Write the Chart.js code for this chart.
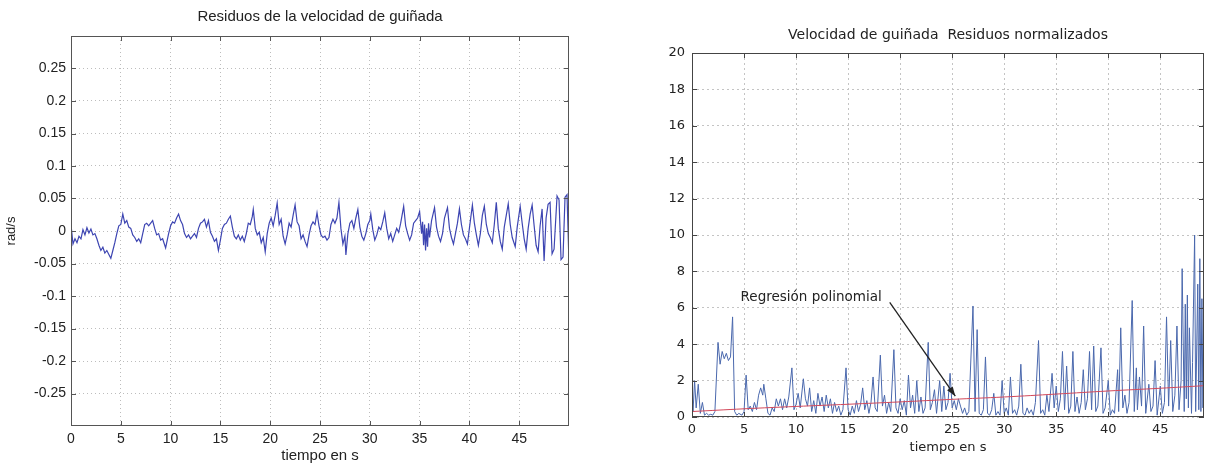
<!DOCTYPE html>
<html><head><meta charset="utf-8">
<script src="https://cdn.jsdelivr.net/npm/chart.js@4.4.1/dist/chart.umd.min.js"></script>
<style>
html,body{margin:0;padding:0;background:#fff;width:1207px;height:463px;overflow:hidden}
#left{position:absolute;left:0;top:0}
#right{position:absolute;left:600px;top:0}
</style></head><body>
<canvas id="left" width="600" height="463"></canvas>
<canvas id="right" width="607" height="463"></canvas>
<script>
// ---------- Left chart: yaw-rate residuals (rad/s) ----------
const leftTime = [
  0,0.2,0.4,0.6,0.8,1.0,1.2,1.4,1.6,1.8,
  2.0,2.2,2.4,2.6,2.8,3.0,3.2,3.4,3.6,3.8,
  4.0,4.2,4.4,4.6,4.8,5.0,5.2,5.4,5.6,5.8,
  6.0,6.2,6.4,6.6,6.8,7.0,7.2,7.4,7.6,7.8,
  8.0,8.2,8.4,8.6,8.8,9.0,9.2,9.5,9.8,10.0,
  10.2,10.4,10.6,10.8,11.0,11.2,11.4,11.6,11.8,12.0,
  12.2,12.4,12.6,12.8,13.0,13.2,13.4,13.6,13.8,14.0,
  14.2,14.4,14.6,14.8,15.0,15.2,15.4,15.6,15.8,16.0,
  16.2,16.4,16.6,16.8,17.0,17.2,17.4,17.6,17.8,18.0,
  18.2,18.3,18.5,18.7,18.9,19.1,19.3,19.5,19.7,19.9,
  20.1,20.3,20.5,20.7,20.9,21.1,21.3,21.5,21.7,21.9,
  22.1,22.3,22.5,22.7,22.9,23.1,23.3,23.5,23.7,23.9,
  24.1,24.3,24.5,24.7,24.9,25.1,25.3,25.5,25.7,25.9,
  26.1,26.3,26.5,26.7,26.9,27.1,27.3,27.5,27.6,27.8,
  28.0,28.2,28.4,28.6,28.8,29.0,29.2,29.4,29.6,29.8,
  30.0,30.1,30.3,30.5,30.7,30.9,31.1,31.3,31.5,31.7,
  31.9,32.1,32.3,32.5,32.7,32.9,33.1,33.4,33.6,33.8,
  34.0,34.2,34.4,34.6,34.8,35.0,35.2,35.3,35.4,35.5,
  35.6,35.7,35.8,35.9,36.0,36.2,36.5,36.7,36.9,37.1,
  37.3,37.5,37.8,38.0,38.2,38.4,38.6,38.8,39.0,39.2,
  39.4,39.6,39.8,40.0,40.3,40.5,40.7,40.9,41.1,41.3,
  41.5,41.7,41.9,42.1,42.3,42.5,42.7,42.9,43.1,43.3,
  43.5,43.7,43.9,44.1,44.3,44.6,44.8,45.1,45.3,45.5,
  45.7,45.9,46.1,46.3,46.5,46.7,46.9,47.1,47.3,47.5,
  47.7,47.9,48.1,48.3,48.5,48.8,49.0,49.2,49.4,49.6,
  49.8,50.0
];
const leftResidual = [
  0.010,-0.020,-0.012,-0.018,-0.008,-0.012,0.002,-0.006,0.005,-0.003,
  0.003,-0.006,-0.004,-0.012,-0.022,-0.030,-0.025,-0.034,-0.030,-0.036,
  -0.042,-0.030,-0.018,-0.004,0.008,0.010,0.026,0.012,0.016,0.006,
  0.004,-0.006,-0.010,-0.016,-0.012,-0.018,-0.004,0.010,0.012,0.008,
  0.012,0.016,0.004,-0.006,-0.004,-0.014,-0.012,-0.026,-0.004,0.008,
  0.014,0.012,0.020,0.026,0.016,0.010,-0.004,-0.010,-0.006,-0.012,
  -0.008,-0.004,-0.010,0.004,0.012,0.014,0.018,0.006,0.016,-0.002,
  -0.008,-0.016,-0.012,-0.030,-0.014,0.004,0.010,0.012,0.018,0.023,
  0.006,-0.008,-0.012,-0.006,-0.014,-0.008,-0.016,-0.004,0.012,0.010,
  0.022,0.033,0.004,-0.006,-0.002,-0.018,-0.010,-0.032,-0.004,0.012,
  0.020,0.008,0.024,0.043,0.010,0.018,-0.008,-0.020,-0.006,0.012,
  0.006,0.024,0.040,0.014,0.008,-0.012,-0.006,-0.016,-0.024,-0.006,
  0.008,0.014,0.010,0.028,0.008,-0.006,-0.010,-0.008,-0.014,-0.010,
  0.010,0.018,0.012,0.020,0.044,0.004,-0.020,-0.008,-0.037,-0.004,
  0.012,0.016,0.004,0.020,0.033,0.006,-0.008,-0.014,-0.004,0.010,
  0.016,0.026,0.002,-0.014,-0.006,0.006,0.002,0.014,0.028,0.004,
  -0.012,-0.004,-0.016,-0.006,0.004,-0.002,0.012,0.038,0.008,-0.004,
  -0.014,-0.006,0.012,0.016,0.020,0.030,-0.004,0.014,-0.022,0.010,
  -0.030,0.004,-0.024,0.012,-0.010,0.016,0.036,0.006,-0.008,-0.016,
  -0.004,0.020,0.036,0.004,-0.010,-0.020,-0.004,0.012,0.034,0.010,
  -0.006,-0.012,-0.020,0.004,0.040,0.012,-0.006,-0.022,-0.004,0.024,
  0.038,0.010,-0.004,-0.010,-0.018,0.010,0.044,0.004,-0.016,-0.028,
  0.006,0.024,0.042,0.010,-0.010,-0.024,0.006,0.038,0.012,-0.012,
  -0.028,0.004,0.026,0.040,0.008,-0.022,-0.032,0.008,0.034,-0.046,
  0.020,0.041,0.044,-0.035,-0.028,0.054,0.048,-0.044,-0.040,0.052,
  0.056,-0.050
];
const leftXTicks = [0,5,10,15,20,25,30,35,40,45];
const leftYTicks = [-0.25,-0.2,-0.15,-0.1,-0.05,0,0.05,0.1,0.15,0.2,0.25];

// ---------- Right chart: normalized residuals ----------
const rightTime = [
  0.0,0.1,0.25,0.4,0.6,0.8,1.0,1.2,1.4,1.6,
  1.8,2.0,2.2,2.5,2.7,2.9,3.1,3.3,3.5,3.7,
  3.9,4.1,4.3,4.5,4.8,5.0,5.2,5.4,5.6,5.8,
  6.0,6.2,6.4,6.6,6.8,6.9,7.1,7.3,7.5,7.7,
  7.9,8.1,8.3,8.5,8.7,8.9,9.1,9.3,9.6,9.8,
  10.0,10.2,10.4,10.7,10.9,11.1,11.3,11.5,11.7,11.9,
  12.1,12.3,12.5,12.7,12.9,13.1,13.3,13.5,13.7,13.9,
  14.1,14.3,14.5,14.8,15.0,15.2,15.4,15.6,15.8,16.0,
  16.2,16.4,16.6,16.8,17.0,17.2,17.4,17.6,17.8,18.1,
  18.3,18.5,18.7,18.9,19.1,19.4,19.6,19.8,20.0,20.2,
  20.4,20.6,20.8,21.0,21.2,21.4,21.6,21.8,22.0,22.2,
  22.4,22.7,22.9,23.1,23.3,23.5,23.8,24.0,24.2,24.4,
  24.6,24.8,25.0,25.2,25.4,25.6,25.8,26.0,26.2,26.4,
  26.6,27.0,27.2,27.4,27.6,27.8,28.0,28.2,28.4,28.6,
  28.8,29.0,29.2,29.4,29.6,29.8,30.0,30.2,30.4,30.6,
  30.8,31.0,31.2,31.4,31.6,31.8,32.0,32.2,32.4,32.6,
  32.8,33.0,33.3,33.5,33.7,33.9,34.1,34.3,34.6,34.8,
  35.0,35.2,35.4,35.6,35.8,36.0,36.2,36.4,36.6,36.8,
  37.0,37.2,37.4,37.6,37.8,38.0,38.2,38.4,38.6,38.8,
  39.0,39.3,39.5,39.7,40.0,40.2,40.4,40.6,40.9,41.0,
  41.2,41.4,41.6,41.8,42.0,42.3,42.5,42.7,42.8,43.0,
  43.2,43.4,43.6,43.9,44.1,44.3,44.5,44.7,45.0,45.2,
  45.4,45.6,45.8,46.0,46.2,46.4,46.6,46.8,47.0,47.1,
  47.3,47.4,47.5,47.6,47.7,47.8,48.0,48.1,48.3,48.4,
  48.6,48.7,48.8,48.9,49.0,49.1,49.2
];
const rightResidual = [
  1.2,0.3,2.0,0.5,1.8,0.2,0.8,0.1,0.2,0.1,
  0.15,0.1,0.3,4.1,2.9,3.6,3.2,3.5,3.1,3.3,
  5.5,0.3,0.1,0.2,0.1,0.3,2.3,0.4,0.6,0.3,
  0.8,0.4,1.2,1.6,1.2,1.8,1.0,0.2,0.1,0.5,
  0.3,1.0,0.6,1.0,0.4,1.0,0.5,1.1,2.7,0.4,
  0.7,1.3,0.5,2.1,1.0,0.6,1.6,0.3,0.9,0.2,
  1.3,0.6,1.1,0.3,1.2,0.5,1.0,0.2,0.8,0.3,
  0.6,0.1,0.4,2.7,0.4,0.1,0.6,0.2,0.9,0.3,
  0.7,1.6,0.4,0.9,0.2,0.8,2.2,0.5,0.3,3.4,
  0.6,1.2,0.2,0.8,0.3,3.7,0.5,0.2,1.0,0.4,
  0.9,0.1,2.3,0.5,1.2,0.2,2.0,0.3,1.1,0.2,
  0.5,4.1,0.4,0.8,1.5,0.2,2.0,0.3,1.7,0.4,
  0.8,2.4,0.5,0.9,0.4,1.0,0.6,0.2,0.5,0.1,
  0.3,6.1,0.3,4.8,0.2,0.1,0.4,3.3,0.2,0.1,
  0.4,1.3,0.1,0.3,0.1,2.0,0.2,0.5,0.1,2.2,
  0.2,0.4,0.1,0.6,2.9,0.2,0.1,0.5,0.2,0.4,
  0.1,0.8,4.2,0.2,0.4,0.1,1.2,0.3,2.4,0.5,
  1.7,0.3,1.0,3.6,0.4,2.8,0.2,0.6,3.6,0.3,
  1.1,0.2,0.8,2.6,0.4,1.0,3.6,0.4,3.9,0.3,
  0.6,3.8,0.2,0.5,2.0,0.1,0.4,0.2,2.6,0.3,
  4.9,0.5,1.2,0.2,0.8,6.4,0.3,2.7,0.4,2.2,
  0.6,5.0,0.2,1.8,0.3,0.6,3.1,0.1,1.7,0.2,
  0.8,5.5,0.6,4.2,0.3,1.2,5.0,0.4,2.0,8.15,
  0.3,6.2,1.0,6.7,0.5,4.9,0.2,3.0,10.0,0.3,
  7.3,0.4,8.7,0.3,6.5,0.5,9.6
];
const regressionTime = [0,5,10,15,20,25,30,35,40,45,49.2];
const regressionValue = [0.30,0.45,0.58,0.70,0.83,0.97,1.10,1.26,1.43,1.58,1.72];
const rightXTicks = [0,5,10,15,20,25,30,35,40,45];
const rightYTicks = [0,2,4,6,8,10,12,14,16,18,20];

const toXY = (xs, ys) => xs.map((x, i) => ({x, y: ys[i]}));
const setTicks = vals => scale => { scale.ticks = vals.map(v => ({value: v})); };

// MATLAB-style box with inward tick marks
const matlabBox = {
  id: 'matlabBox',
  afterDatasetsDraw(chart, args, o) {
    const {ctx, chartArea: a, scales} = chart;
    const L = o.tickLen;
    ctx.save();
    ctx.strokeStyle = o.color;
    ctx.lineWidth = 1;
    ctx.beginPath();
    scales.x.ticks.forEach(t => {
      const px = Math.round(scales.x.getPixelForValue(t.value)) + 0.5;
      ctx.moveTo(px, a.bottom); ctx.lineTo(px, a.bottom - L);
      ctx.moveTo(px, a.top); ctx.lineTo(px, a.top + L);
    });
    scales.y.ticks.forEach(t => {
      const py = Math.round(scales.y.getPixelForValue(t.value)) + 0.5;
      ctx.moveTo(a.left, py); ctx.lineTo(a.left + L, py);
      ctx.moveTo(a.right, py); ctx.lineTo(a.right - L, py);
    });
    ctx.stroke();
    ctx.strokeRect(Math.round(a.left) + 0.5, Math.round(a.top) + 0.5,
                   Math.round(a.width) - 1, Math.round(a.height) - 1);
    ctx.restore();
  }
};

// Annotation arrow
const arrowNote = {
  id: 'arrowNote',
  afterDatasetsDraw(chart, args, o) {
    if (!o || !o.text) return;
    const {ctx, scales: {x, y}} = chart;
    const x1 = x.getPixelForValue(o.from[0]), y1 = y.getPixelForValue(o.from[1]);
    const x2 = x.getPixelForValue(o.to[0]), y2 = y.getPixelForValue(o.to[1]);
    ctx.save();
    ctx.strokeStyle = o.color; ctx.fillStyle = o.color; ctx.lineWidth = 1.3;
    ctx.beginPath(); ctx.moveTo(x1, y1); ctx.lineTo(x2, y2); ctx.stroke();
    const ang = Math.atan2(y2 - y1, x2 - x1), h = 10, w = 0.35;
    ctx.beginPath();
    ctx.moveTo(x2, y2);
    ctx.lineTo(x2 - h * Math.cos(ang - w), y2 - h * Math.sin(ang - w));
    ctx.lineTo(x2 - h * Math.cos(ang + w), y2 - h * Math.sin(ang + w));
    ctx.closePath(); ctx.fill();
    ctx.font = o.font;
    ctx.fillStyle = o.textColor;
    ctx.textAlign = 'right'; ctx.textBaseline = 'middle';
    ctx.fillText(o.text, x1 - o.gap, y1 - o.lift);
    ctx.restore();
  }
};

const LF = 'Liberation Sans, Arial, Helvetica, sans-serif';
const RF = 'DejaVu Sans, Verdana, sans-serif';

new Chart(document.getElementById('left'), {
  type: 'line',
  data: { datasets: [{
    label: 'Residuos',
    data: toXY(leftTime, leftResidual),
    borderColor: '#3d45b2', borderWidth: 1.2, pointRadius: 0, tension: 0, fill: false
  }]},
  options: {
    responsive: false, animation: false, devicePixelRatio: 1,
    layout: { padding: { left: 0, right: 31, top: 0, bottom: 0 } },
    plugins: {
      legend: { display: false }, tooltip: { enabled: false },
      title: { display: true, fullSize: false, text: 'Residuos de la velocidad de guiñada',
        color: '#222', font: { family: LF, size: 15, weight: 'normal' },
        padding: { top: 8, bottom: 10 } },
      matlabBox: { color: '#555', tickLen: 5 }
    },
    scales: {
      x: { type: 'linear', min: 0, max: 50,
        afterBuildTicks: setTicks(leftXTicks),
        afterFit: s => { s.height = 37; },
        grid: { color: '#bdbdbd', drawTicks: false },
        border: { display: false, dash: [1, 3] },
        ticks: { color: '#222', font: { family: LF, size: 14 }, padding: 5, maxRotation: 0, autoSkip: false },
        title: { display: true, text: 'tiempo en s', color: '#222', font: { family: LF, size: 15 }, padding: { top: 0, bottom: -2 } }
      },
      y: { type: 'linear', min: -0.3, max: 0.3,
        afterBuildTicks: setTicks(leftYTicks),
        afterFit: s => { s.width = 71; },
        grid: { color: '#bdbdbd', drawTicks: false },
        border: { display: false, dash: [1, 3] },
        ticks: { color: '#222', font: { family: LF, size: 14 }, padding: 5, autoSkip: false,
          callback: v => String(+Number(v).toFixed(2)) },
        title: { display: true, text: 'rad/s', color: '#222', font: { family: LF, size: 13 }, padding: { top: 4, bottom: 0 } }
      }
    }
  },
  plugins: [matlabBox]
});

new Chart(document.getElementById('right'), {
  type: 'line',
  data: { datasets: [
    { label: 'Regresión polinomial', data: toXY(regressionTime, regressionValue),
      borderColor: '#d2485a', borderWidth: 1, pointRadius: 0, tension: 0.4, fill: false, order: 0 },
    { label: 'Residuos normalizados', data: toXY(rightTime, rightResidual),
      borderColor: '#4a68ad', borderWidth: 1, pointRadius: 0, tension: 0, fill: false, order: 1 }
  ]},
  options: {
    responsive: false, animation: false, devicePixelRatio: 1,
    layout: { padding: { left: 0, right: 3, top: 0, bottom: 0 } },
    plugins: {
      legend: { display: false }, tooltip: { enabled: false },
      title: { display: true, fullSize: false, text: 'Velocidad de guiñada  Residuos normalizados',
        color: '#222', font: { family: RF, size: 14, weight: 'normal' },
        padding: { top: 26.6, bottom: 9.6 } },
      matlabBox: { color: '#444', tickLen: 5 },
      arrowNote: { text: 'Regresión polinomial', from: [19.0, 6.3], to: [25.3, 1.15],
        color: '#222', textColor: '#222', font: '13.5px ' + RF, gap: 8, lift: 5 }
    },
    scales: {
      x: { type: 'linear', min: 0, max: 49.2,
        afterBuildTicks: setTicks(rightXTicks),
        afterFit: s => { s.height = 46; },
        grid: { color: '#c4c4c4', drawTicks: false },
        border: { display: false, dash: [2, 3] },
        ticks: { color: '#222', font: { family: RF, size: 13 }, padding: 5, maxRotation: 0, autoSkip: false },
        title: { display: true, text: 'tiempo en s', color: '#222', font: { family: RF, size: 13 }, padding: { top: 0, bottom: 8 } }
      },
      y: { type: 'linear', min: 0, max: 20,
        afterBuildTicks: setTicks(rightYTicks),
        afterFit: s => { s.width = 92; },
        grid: { color: '#c4c4c4', drawTicks: false },
        border: { display: false, dash: [2, 3] },
        ticks: { color: '#222', font: { family: RF, size: 13 }, padding: 7, autoSkip: false }
      }
    }
  },
  plugins: [matlabBox, arrowNote]
});
</script>
</body></html>
